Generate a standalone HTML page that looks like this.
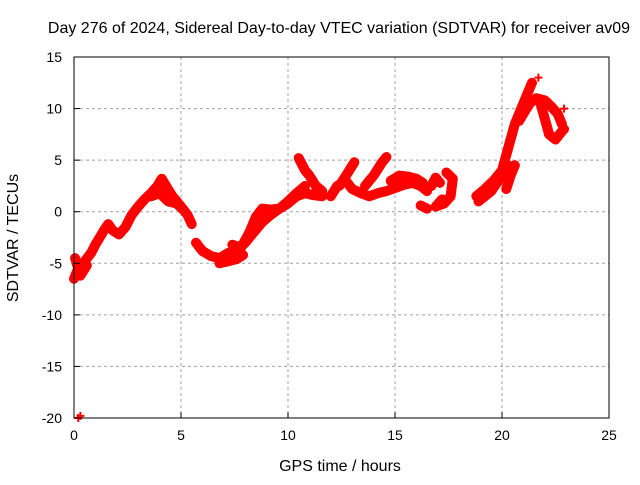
<!DOCTYPE html>
<html><head><meta charset="utf-8"><style>
body{margin:0;background:#fff;}
svg text{font-family:"Liberation Sans",sans-serif;fill:#000;}
</style></head><body>
<svg id="chart" width="640" height="480" xmlns="http://www.w3.org/2000/svg">
<rect width="640" height="480" fill="#fff"/>
<text x="339" y="33" font-size="16" text-anchor="middle">Day 276 of 2024, Sidereal Day-to-day VTEC variation (SDTVAR) for receiver av09</text>
<text x="340" y="471" font-size="16" text-anchor="middle">GPS time / hours</text>
<text x="18" y="238" font-size="16" text-anchor="middle" transform="rotate(-90 18 238)">SDTVAR / TECUs</text>
<g id="grid"></g><g id="marks"></g><g id="axes"></g>
</svg>
<script>
const xTicks=[0,5,10,15,20,25];
const yTicks=[15,10,5,0,-5,-10,-15,-20];
const trackA=[[0,-6.5],[0.2,-5.5],[0.5,-4.8],[0.8,-4],[1.0,-3.2],[1.2,-2.5],[1.4,-1.8],[1.6,-1.2],[1.8,-1.8],[2.1,-2.2],[2.4,-1.5],[2.7,-0.3],[3.0,0.5],[3.3,1.2],[3.6,1.8],[3.9,2.5],[4.1,3.2],[4.3,2.5],[4.6,1.5],[5.0,0.5],[5.3,-0.3],[5.5,-1.2]];
const trackA2=[[3.6,1.5],[4.0,1.8],[4.4,1.0],[4.8,0.8],[5.1,0.2]];
const trackA3=[[0.05,-4.5],[0.3,-6.2],[0.6,-5.2]];
const trackB=[[5.7,-3],[6.0,-3.8],[6.4,-4.3],[6.8,-4.5],[7.2,-4.0],[7.6,-3.8],[8.0,-3.0],[8.4,-2.0],[8.8,-1.0],[9.2,-0.3],[9.6,0.3],[10.0,1.0],[10.4,1.8],[10.8,2.5]];
const trackC=[[7.4,-3.2],[7.8,-3.5],[8.2,-2.0],[8.5,-0.5],[8.8,0.3],[9.2,0.2],[9.6,0.3],[10.0,0.8],[10.4,1.5],[10.8,1.8],[11.2,1.6],[11.6,1.5]];
const trackD=[[10.5,5.2],[10.8,4.0],[11.0,3.5],[11.3,2.5],[11.6,2.0]];
const trackE=[[6.8,-5.0],[7.2,-4.8],[7.6,-4.6],[7.9,-4.2]];
const trackF=[[12.0,1.5],[12.3,2.5],[12.7,3.0],[13.0,2.2],[13.4,1.8],[13.8,1.5],[14.2,1.8],[14.6,2.0],[15.0,2.3],[15.4,2.6],[15.8,2.8],[16.2,2.5],[16.5,2.0]];
const trackG=[[12.4,2.5],[12.8,3.8],[13.1,4.8]];
const trackG2=[[13.6,2.5],[14.0,3.5],[14.4,4.8],[14.6,5.3]];
const trackH=[[14.8,3.0],[15.2,3.5],[15.6,3.4],[16.0,3.2],[16.3,2.8]];
const trackI=[[16.2,0.6],[16.5,0.3]];
const trackJ=[[16.7,2.5],[16.9,3.3],[17.1,2.8]];
const trackK=[[17.4,3.8],[17.7,3.2],[17.6,1.5],[17.3,0.8],[16.9,0.5],[17.2,1.2]];
const trackL=[[18.8,1.5],[19.2,2.2],[19.6,3.0],[20.0,4.0],[20.2,5.5],[20.4,7],[20.6,8.5],[20.8,9.5],[21.0,10.5],[21.2,11.5],[21.4,12.5]];
const trackM=[[18.9,1.0],[19.5,2.0],[19.9,3.2],[20.3,4.5]];
const trackN=[[20.2,2.2],[20.4,3.5],[20.6,4.5]];
const trackO=[[20.8,8.8],[21.0,9.5],[21.3,10.5],[21.6,11.0],[22.0,10.8],[22.3,10.2],[22.6,9.5],[22.8,8.5]];
const trackP=[[21.8,10.5],[22.0,9.0],[22.2,7.5],[22.5,7.0],[22.8,7.8],[22.9,8.0]];
const singles=[[21.7,13.0],[0.2,-20],[0.3,-19.8],[22.9,10.0]];
const tracks=[trackA,trackA2,trackA3,trackB,trackC,trackD,trackE,trackF,trackG,trackG2,trackH,trackI,trackJ,trackK,trackL,trackM,trackN,trackO,trackP];
const L=74,R=609,T=57,B=418,xMin=0,xMax=25,yMin=-20,yMax=15;
const sx=v=>L+(v-xMin)/(xMax-xMin)*(R-L);
const sy=v=>B-(v-yMin)/(yMax-yMin)*(B-T);
const NS="http://www.w3.org/2000/svg";
function mk(tag,attrs,parent){const e=document.createElementNS(NS,tag);for(const k in attrs)e.setAttribute(k,attrs[k]);parent.appendChild(e);return e;}
const grid=document.getElementById('grid'),marks=document.getElementById('marks'),axes=document.getElementById('axes');
xTicks.forEach(t=>{
  if(t>xMin&&t<xMax){const g=mk('line',{x1:sx(t),x2:sx(t),y1:T,y2:B,stroke:'#a0a0a0','stroke-dasharray':'3,3'},grid);
  
  }
  const tk=mk('line',{x1:sx(t),x2:sx(t),y1:B,y2:B-6,stroke:'#000'},axes);
  
  
  const tx=mk('text',{x:sx(t),y:B+22,'font-size':14,'text-anchor':'middle'},axes);tx.textContent=t;
  
  
});
yTicks.forEach(t=>{
  if(t>yMin&&t<yMax){const g=mk('line',{x1:L,x2:R,y1:sy(t),y2:sy(t),stroke:'#a0a0a0','stroke-dasharray':'3,3'},grid);
  
  }
  const tk=mk('line',{x1:L,x2:L+6,y1:sy(t),y2:sy(t),stroke:'#000'},axes);
  
  
  const tx=mk('text',{x:L-12,y:sy(t)+5,'font-size':14,'text-anchor':'end'},axes);tx.textContent=t;
  
  
});
const fr=mk('rect',{x:L,y:T,width:R-L,height:B-T,fill:'none',stroke:'#000'},axes);


function plus(p,parent){
  const x=sx(p[0]),y=sy(p[1]);
  mk('path',{d:`M${x-4},${y}H${x+4}M${x},${y-4}V${y+4}`,stroke:'#f00','stroke-width':2},parent);
}
tracks.forEach(tr=>{
  const g=mk('g',{},marks);
  
  
  mk('polyline',{points:tr.map(p=>sx(p[0])+','+sy(p[1])).join(' '),fill:'none',stroke:'#f00','stroke-width':10,'stroke-linejoin':'round','stroke-linecap':'round'},g);
  tr.forEach(p=>plus(p,g));
});
const sg=mk('g',{},marks);


singles.forEach(p=>plus(p,sg));
</script>
</body></html>
